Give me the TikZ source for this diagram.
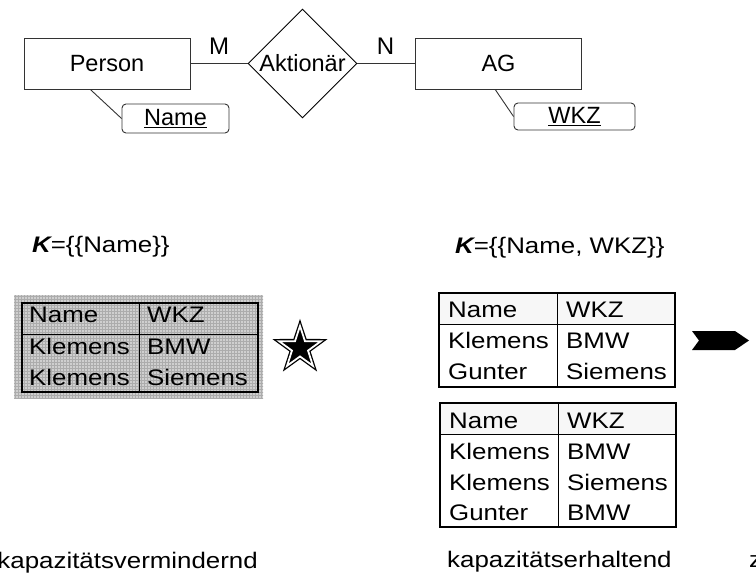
\documentclass[tikz,border=0pt]{standalone}
\usepackage{fontspec}
\setmainfont{Liberation Sans}
\newfontfamily\wf[FakeStretch=1.15]{Liberation Sans}
\usetikzlibrary{shapes.geometric,patterns,calc}
\begin{document}
\begin{tikzpicture}[x=1pt,y=-1pt,
  erfont/.style={font=\fontsize{23.5}{28}\selectfont},
  ent/.style={draw=black!80, line width=0.9pt, minimum width=166pt, minimum height=51pt, inner sep=0pt, erfont},
  attr/.style={draw=black!80, line width=0.9pt, rounded corners=4pt, inner sep=0pt, erfont},
  rel/.style={diamond, draw=black, line width=0.9pt, aspect=1, minimum size=109pt, inner sep=0pt, erfont},
  conn/.style={line width=0.9pt, draw=black!80},
  lab/.style={font=\fontsize{24}{28}\selectfont, inner sep=0pt},
  tt/.style={font=\wf\fontsize{22.5}{27}\selectfont, inner sep=0pt, anchor=base west},
  tline/.style={line width=1pt},
  tborder/.style={line width=1.3pt}
]
\useasboundingbox (0,0) rectangle (756,575);
\clip (0,0) rectangle (756,575);

% ER diagram
\node[ent] (person) at (107,63.5) {Person};
\node[ent] (ag) at (498.5,63.5) {AG};
\node[rel] (akt) at (302.5,63.5) {Aktionär};
\node[attr, minimum width=107pt, minimum height=29pt] (name) at (175.5,118.5) {\underline{Name}};
\node[attr, minimum width=121pt, minimum height=27pt] (wkz) at (574.5,116.5) {\underline{WKZ}};
\draw[conn] (person.east) -- (akt.west);
\draw[conn] (akt.east) -- (ag.west);
\draw[conn] ($(person.south west)!0.4!(person.south east)$) -- (name.west);
\draw[conn] ($(ag.south west)!0.48!(ag.south east)$) -- (wkz.west);
\node[lab] (m) at (219,46) {M};
\node[lab] (n) at (385.5,46) {N};

% key labels
\node[tt] (k1) at (32,253) {\bfseries\itshape K\mdseries\upshape=\{\{Name\}\}};
\node[tt] (k2) at (455,254) {\bfseries\itshape K\mdseries\upshape=\{\{Name, WKZ\}\}};

% left table (hatched)
\fill[gray!38] (14,295) rectangle (263,398);
\fill[pattern=grid, pattern color=gray!65] (14,295) rectangle (263,398);
\draw[tline] (22,334) -- (258,334);
\draw[tline] (139,303) -- (139,392);
\draw[tborder] (22,303) rectangle (258,392);
\draw[line width=2.2pt] (22,303) -- (22,392);
\draw[line width=2.2pt] (258,303) -- (258,392);
\node[tt] (l11) at (29,323) {Name};
\node[tt] (l12) at (147,323) {WKZ};
\node[tt] (l21) at (29,354) {Klemens};
\node[tt] (l22) at (147,354) {BMW};
\node[tt] (l31) at (29,385) {Klemens};
\node[tt] (l32) at (147,385) {Siemens};

% star
\node[star, star points=5, star point ratio=2.6, fill=black, draw=black, double=white,
      double distance=1.8pt, line width=1.3pt, minimum size=44pt, inner sep=0pt] (st) at (300,348) {};

% right upper table
\fill[gray!6] (439,293) rectangle (675,324);
\draw[tline] (439,324) -- (675,324);
\draw[tline] (557,293) -- (557,387);
\draw[tborder] (439,293) rectangle (675,387);
\draw[line width=2pt] (439,293) -- (439,387);
\node[tt] (a11) at (448,317) {Name};
\node[tt] (a12) at (566,317) {WKZ};
\node[tt] (a21) at (448,348) {Klemens};
\node[tt] (a22) at (566,348) {BMW};
\node[tt] (a31) at (448,379) {Gunter};
\node[tt] (a32) at (566,379) {Siemens};

% right lower table
\fill[gray!6] (440,403) rectangle (676,434);
\draw[tline] (440,434) -- (676,434);
\draw[tline] (558,403) -- (558,527);
\draw[tborder] (440,403) rectangle (676,527);
\draw[line width=2pt] (440,403) -- (440,527);
\node[tt] (b11) at (449,428) {Name};
\node[tt] (b12) at (567,428) {WKZ};
\node[tt] (b21) at (449,459) {Klemens};
\node[tt] (b22) at (567,459) {BMW};
\node[tt] (b31) at (449,490) {Klemens};
\node[tt] (b32) at (567,490) {Siemens};
\node[tt] (b41) at (449,520) {Gunter};
\node[tt] (b42) at (567,520) {BMW};

% chevron arrow
\fill[black] (692,331) -- (735,331) -- (749,340.5) -- (735,350) -- (692,350) -- (699,340.5) -- cycle;

% bottom labels
\node[tt, anchor=base east] (c1) at (258,568) {kapazitätsvermindernd};
\node[tt] (c2) at (447,567) {kapazitätserhaltend};
\node[tt] (c3) at (749,567) {z};
\end{tikzpicture}
\end{document}
